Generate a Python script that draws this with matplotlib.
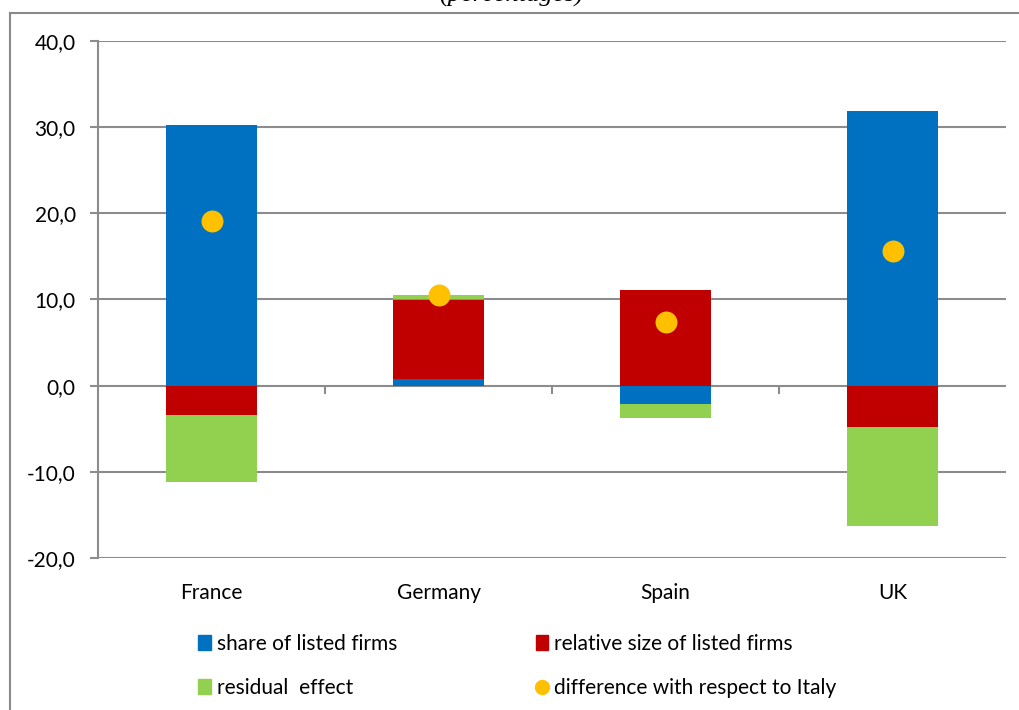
import matplotlib
matplotlib.use("Agg")
import matplotlib.pyplot as plt
from matplotlib.patches import Patch
from matplotlib.lines import Line2D
import numpy as np

categories = ["France", "Germany", "Spain", "UK"]
share_listed = [30.3, 0.8, -2.1, 31.9]
relative_size = [-3.4, 9.2, 11.1, -4.8]
residual = [-7.8, 0.5, -1.6, -11.5]
difference = [19.1, 10.5, 7.4, 15.6]
yticks = [-20, -10, 0, 10, 20, 30, 40]

series = [("share of listed firms", share_listed, "#0070C0"),
          ("relative size of listed firms", relative_size, "#C00000"),
          ("residual  effect", residual, "#92D050")]

plt.rcParams['font.family'] = ['Lato', 'DejaVu Sans']
fig = plt.figure(figsize=(10.19, 7.10), dpi=100)
W, H = 1019, 710
ax = fig.add_axes([98 / W, 1 - 558 / H, (1006 - 98) / W, (558 - 41) / H])

grid_c = "#8C8C8C"
x = np.arange(len(categories))
pos_bottom = np.zeros(len(categories))
neg_bottom = np.zeros(len(categories))
for label, vals, col in series:
    vals = np.array(vals)
    bottoms = np.where(vals >= 0, pos_bottom, neg_bottom)
    ax.bar(x, vals, width=0.4, bottom=bottoms, color=col, zorder=3, linewidth=0)
    pos_bottom = pos_bottom + np.where(vals >= 0, vals, 0)
    neg_bottom = neg_bottom + np.where(vals < 0, vals, 0)

ax.scatter(x, difference, s=250, color="#FFC000", zorder=4, linewidths=0)

ax.set_xlim(-0.5, 3.5)
ax.set_ylim(-20, 40)
ax.set_yticks(yticks)
ax.set_yticklabels([f"{v:.1f}".replace(".", ",") for v in yticks], fontsize=15)
ax.set_xticks(x)
ax.set_xticklabels(categories, fontsize=15)
ax.tick_params(axis='x', length=0, pad=18)
ax.tick_params(axis='y', length=6, width=1.5, color=grid_c, pad=10)
ax.grid(axis='y', color=grid_c, linewidth=1.5, zorder=0)
ax.set_axisbelow(True)
for s in ["top", "right", "bottom"]:
    ax.spines[s].set_visible(False)
ax.spines["left"].set_color(grid_c)
ax.spines["left"].set_linewidth(1.5)

# zero axis tick marks between categories
sec = ax.secondary_xaxis(1 / 3)
sec.set_xticks([0.5, 1.5, 2.5])
sec.set_xticklabels([])
sec.tick_params(axis='x', direction='out', length=6, width=1.5, color=grid_c)
sec.spines["bottom"].set_visible(False)
sec.spines["top"].set_visible(False)

handles = [Patch(color="#0070C0", label="share of listed firms"),
           Patch(color="#92D050", label="residual  effect"),
           Patch(color="#C00000", label="relative size of listed firms"),
           Line2D([], [], marker='o', color="#FFC000", linestyle='none',
                  markersize=10, label="difference with respect to Italy")]
fig.legend(handles=handles, ncol=2, loc="upper left",
           bbox_to_anchor=(198 / W, 1 - 634 / H), frameon=False,
           fontsize=15, handlelength=0.6, handleheight=0.75, handletextpad=0.3,
           labelspacing=1.15, columnspacing=6.65, borderpad=0, borderaxespad=0)

# outer frame
fig.add_artist(Line2D([10 / W, 1.0], [1 - 13 / H, 1 - 13 / H], color="#8A8A8A",
                      linewidth=1.5, transform=fig.transFigure))
fig.add_artist(Line2D([10 / W, 10 / W], [1 - 13 / H, 0], color="#8A8A8A",
                      linewidth=1.5, transform=fig.transFigure))

fig.text(511 / W, 1 - 2 / H, "(percentages)", ha="center", va="baseline",
         fontsize=19, style="italic", family="Liberation Serif")

fig.savefig("out.png", dpi=100)
